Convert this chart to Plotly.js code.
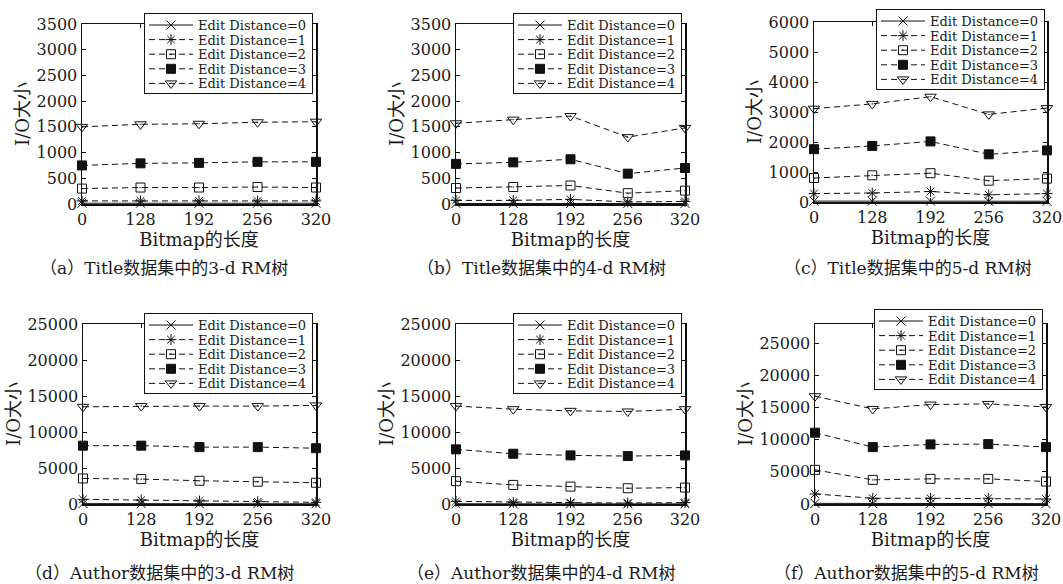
<!DOCTYPE html>
<html>
<head>
<meta charset="utf-8">
<script src="https://cdn.plot.ly/plotly-3.0.1.min.js"></script>
<style>
  html, body { margin: 0; padding: 0; background: #fff; }
  #chart { width: 1063px; height: 584px; }
</style>
</head>
<body>
<div id="chart"></div>
<script>
// ---------------- data ----------------
var bitmapLengths = ['0', '128', '192', '256', '320'];
var seriesNames = ['Edit Distance=0', 'Edit Distance=1', 'Edit Distance=2', 'Edit Distance=3', 'Edit Distance=4'];
var yTitle = 'I/O大小';
var xTitle = 'Bitmap的长度';
var captions = [
  '（a）Title数据集中的3-d RM树',
  '（b）Title数据集中的4-d RM树',
  '（c）Title数据集中的5-d RM树',
  '（d）Author数据集中的3-d RM树',
  '（e）Author数据集中的4-d RM树',
  '（f）Author数据集中的5-d RM树'
];

// each panel: [ED=0, ED=1, ED=2, ED=3, ED=4]
var title3d = [
  [15, 15, 15, 15, 15],
  [60, 60, 60, 60, 60],
  [300, 320, 320, 330, 320],
  [750, 790, 800, 820, 820],
  [1500, 1550, 1560, 1590, 1600]
];
var title4d = [
  [10, 10, 10, 10, 10],
  [70, 70, 90, 40, 50],
  [310, 330, 360, 210, 260],
  [780, 810, 870, 590, 700],
  [1570, 1640, 1710, 1300, 1480]
];
var title5d = [
  [30, 30, 30, 20, 25],
  [280, 300, 350, 240, 280],
  [800, 890, 960, 710, 780],
  [1760, 1870, 2020, 1590, 1720],
  [3110, 3270, 3510, 2920, 3130]
];
var author3d = [
  [50, 40, 30, 30, 30],
  [650, 550, 420, 320, 230],
  [3550, 3460, 3230, 3090, 2950],
  [8100, 8100, 7900, 7900, 7750],
  [13500, 13600, 13600, 13600, 13700]
];
var author4d = [
  [30, 20, 20, 20, 20],
  [370, 230, 190, 140, 190],
  [3170, 2650, 2420, 2190, 2280],
  [7590, 6980, 6750, 6660, 6750],
  [13600, 13170, 12940, 12850, 13170]
];
var author5d = [
  [100, 60, 60, 60, 60],
  [1560, 890, 890, 890, 780],
  [5310, 3750, 3910, 3910, 3490],
  [11090, 8850, 9270, 9320, 8850],
  [16770, 14790, 15470, 15570, 15100]
];

var yRanges = [[0, 3500], [0, 3500], [0, 6000], [0, 25000], [0, 25000], [0, 28000]];
var yTickSteps = [500, 500, 1000, 5000, 5000, 5000];
var yTickMax = [3500, 3500, 6000, 25000, 25000, 25000];

// ---------------- styling / layout ----------------
var W = 1063, H = 584;
var FONT = 'DejaVu Serif, "Noto Sans CJK SC", serif';
var INK = '#111';
var panels = [title3d, title4d, title5d, author3d, author4d, author5d];
// plot-area boxes in pixels [left, right, top, bottom]
var boxes = [
  [82, 316, 24, 204], [456, 685, 24, 204], [814, 1047, 22, 202],
  [83, 316, 324, 504], [456, 685, 324, 504], [815, 1046, 324, 504]
];
var legendPos = [[313, 13], [682, 13], [1045, 9], [313, 313], [682, 313], [1043, 309]];
var captionPos = [[164, 268], [541, 268], [908, 268], [159, 573], [541, 573], [906, 573]];

var symbols = ['x-thin-open', 'asterisk-open', 'square-open-dot', 'square', 'triangle-down-open-dot'];
var sizes = [9, 9, 9, 9, 10];
var dashes = ['solid', '6px,4px', '6px,4px', '6px,4px', '6px,4px'];

var data = [];
var layout = {
  width: W, height: H,
  margin: {l: 0, r: 0, t: 0, b: 0},
  paper_bgcolor: '#fff', plot_bgcolor: '#fff',
  font: {family: FONT, color: INK, size: 16},
  showlegend: true,
  annotations: []
};

panels.forEach(function (panel, p) {
  var n = p + 1;
  var xa = 'xaxis' + (n === 1 ? '' : n), ya = 'yaxis' + (n === 1 ? '' : n);
  var xr = 'x' + (n === 1 ? '' : n), yr = 'y' + (n === 1 ? '' : n);
  var lg = 'legend' + (n === 1 ? '' : n);
  var b = boxes[p];
  var tv = [];
  for (var v = 0; v <= yTickMax[p]; v += yTickSteps[p]) tv.push(v);

  layout[xa] = {
    domain: [b[0] / W, b[1] / W], anchor: yr,
    type: 'category', range: [0, 4],
    showline: true, mirror: 'ticks', linecolor: INK, linewidth: 1.5,
    ticks: 'inside', ticklen: 4, tickwidth: 1, tickcolor: INK,
    showgrid: false, zeroline: false,
    tickfont: {family: FONT, size: 16, color: '#1a1a1a'},
    title: {text: xTitle, font: {family: FONT, size: 18, color: '#1a1a1a'}, standoff: 0},
    automargin: false, fixedrange: true
  };
  layout[ya] = {
    domain: [1 - b[3] / H, 1 - b[2] / H], anchor: xr,
    range: yRanges[p], tickvals: tv, tickformat: 'd',
    showline: true, mirror: 'ticks', linecolor: INK, linewidth: 1.5,
    ticks: 'inside', ticklen: 4, tickwidth: 1, tickcolor: INK,
    showgrid: false, zeroline: false,
    tickfont: {family: FONT, size: 16, color: '#1a1a1a'},
    title: {text: yTitle, font: {family: FONT, size: 18, color: '#1a1a1a'}, standoff: 2},
    automargin: false, fixedrange: true
  };
  layout[lg] = {
    x: legendPos[p][0] / W, y: 1 - legendPos[p][1] / H,
    xanchor: 'right', yanchor: 'top',
    bgcolor: '#fff', bordercolor: INK, borderwidth: 1,
    font: {family: FONT, size: 13, color: '#1a1a1a'},
    itemwidth: 43, traceorder: 'normal'
  };
  layout.annotations.push({
    xref: 'paper', yref: 'paper',
    x: captionPos[p][0] / W, y: 1 - captionPos[p][1] / H,
    xanchor: 'center', yanchor: 'middle', showarrow: false,
    text: captions[p], font: {family: FONT, size: 17, color: '#1a1a1a'}
  });

  panel.forEach(function (vals, s) {
    data.push({
      type: 'scatter', mode: 'lines+markers',
      x: bitmapLengths, y: vals, name: seriesNames[s],
      xaxis: xr, yaxis: yr, legend: lg,
      cliponaxis: false,
      line: {color: INK, width: 1, dash: dashes[s]},
      marker: {symbol: symbols[s], size: sizes[s], color: INK, line: {color: INK, width: 1}}
    });
  });
});

function parseT(t) {
  var m = /translate\(\s*([-\d.e]+)[\s,]+([-\d.e]+)\s*\)/.exec(t || '');
  return m ? [parseFloat(m[1]), parseFloat(m[2])] : [0, 0];
}

// tighten legend rows to the compact spacing of the original figure
function tightenLegends(gd) {
  var firstY = 12, step = 14.6, bottomGap = 10;
  for (var n = 1; n <= 6; n++) {
    var id = 'legend' + (n === 1 ? '' : n);
    var lg = gd.querySelector('g.infolayer > g.' + id);
    if (!lg) continue;
    var items = lg.querySelectorAll('g.traces');
    items.forEach(function (it, i) {
      var t = parseT(it.getAttribute('transform'));
      it.setAttribute('transform', 'translate(' + t[0] + ',' + (firstY + i * step) + ')');
      var ln = it.querySelectorAll('g.legendlines path');
      ln.forEach(function (pth) { pth.setAttribute('d', 'M4,0h44'); });
      var pts = it.querySelectorAll('g.legendpoints path');
      pts.forEach(function (pth) { pth.setAttribute('transform', 'translate(26,0)'); });
    });
    var bg = lg.querySelector('rect.bg');
    if (bg && items.length) {
      bg.setAttribute('height', firstY + (items.length - 1) * step + bottomGap);
    }
  }
}

Plotly.newPlot('chart', data, layout, {staticPlot: true, displayModeBar: false})
  .then(function (gd) { tightenLegends(gd); });
</script>
</body>
</html>
